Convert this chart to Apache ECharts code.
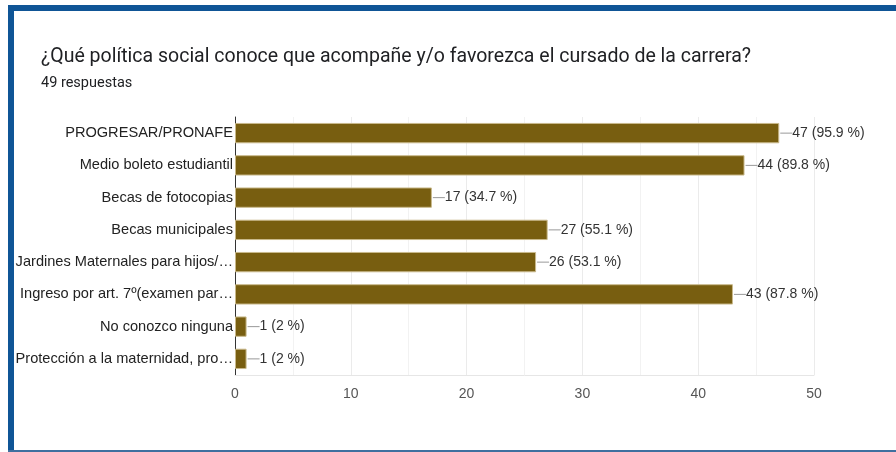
<!DOCTYPE html>
<html>
<head>
<meta charset="utf-8">
<script src="https://cdn.jsdelivr.net/npm/echarts@6/dist/echarts.min.js"></script>
<style>
  html, body { margin: 0; padding: 0; background: #fff; }
  #chart { width: 896px; height: 452px; }
</style>
</head>
<body>
<div id="chart"></div>
<script>
// Survey answers: policies known to the respondents
const categories = [
  'PROGRESAR/PRONAFE',
  'Medio boleto estudiantil',
  'Becas de fotocopias',
  'Becas municipales',
  'Jardines Maternales para hijos/…',
  'Ingreso por art. 7º(examen par…',
  'No conozco ninguna',
  'Protección a la maternidad, pro…'
];
const counts = [47, 44, 17, 27, 26, 43, 1, 1];
const percents = ['95.9', '89.8', '34.7', '55.1', '53.1', '87.8', '2', '2'];
const xTicks = [0, 10, 20, 30, 40, 50];

const chart = echarts.init(document.getElementById('chart'));
const blue = '#0f5596';

const frame = [
  { type: 'rect', shape: { x: 8, y: 5, width: 888, height: 6 }, style: { fill: blue } },
  { type: 'rect', shape: { x: 8, y: 5, width: 6, height: 447 }, style: { fill: blue } },
  { type: 'rect', shape: { x: 8, y: 450, width: 888, height: 2 }, style: { fill: '#3f6f9f' } }
];

chart.setOption({
  animation: false,
  backgroundColor: '#ffffff',
  title: {
    text: '¿Qué política social conoce que acompañe y/o favorezca el cursado de la carrera?',
    subtext: '49 respuestas',
    left: 36,
    top: 42,
    itemGap: 9,
    textStyle: { fontFamily: 'Roboto', fontSize: 19.5, fontWeight: 'normal', color: '#202124' },
    subtextStyle: { fontFamily: 'Roboto', fontSize: 14.5, color: '#202124' }
  },
  graphic: frame,
  grid: { left: 235, right: 82, top: 117, bottom: 77 },
  xAxis: {
    type: 'value',
    min: xTicks[0],
    max: xTicks[xTicks.length - 1],
    interval: 10,
    axisLine: { show: true, lineStyle: { color: '#e6e6e6' } },
    axisTick: { show: false },
    axisLabel: { color: '#555', fontFamily: 'Liberation Sans', fontSize: 14, margin: 12 },
    splitLine: { show: true, lineStyle: { color: '#ebebeb' } },
    minorTick: { show: false, splitNumber: 2 },
    minorSplitLine: { show: true, lineStyle: { color: '#f2f2f2' } }
  },
  yAxis: {
    type: 'category',
    data: categories,
    inverse: true,
    axisLine: { show: true, lineStyle: { color: '#333', width: 1 } },
    axisTick: { show: false },
    axisLabel: { color: '#222', fontFamily: 'Liberation Sans', fontSize: 14.6, margin: 2 },
    splitLine: { show: false }
  },
  series: [{
    type: 'bar',
    data: counts,
    barCategoryGap: '37%',
    itemStyle: { color: '#785e10', borderColor: '#c9b98c', borderWidth: 1 },
    label: {
      show: true,
      position: 'right',
      distance: 13,
      color: '#333',
      fontFamily: 'Liberation Sans',
      fontSize: 14,
      formatter: p => p.value + ' (' + percents[p.dataIndex] + ' %)'
    }
  }]
});

// Short grey leader line between each bar end and its value label
const leaders = counts.map((v, i) => {
  const a = chart.convertToPixel({ gridIndex: 0 }, [v, i]);
  return {
    type: 'line',
    shape: { x1: a[0] + 1, y1: a[1], x2: a[0] + 13, y2: a[1] },
    style: { stroke: '#999', lineWidth: 1 },
    z: 10
  };
});
chart.setOption({ graphic: frame.concat(leaders) });
</script>
</body>
</html>
